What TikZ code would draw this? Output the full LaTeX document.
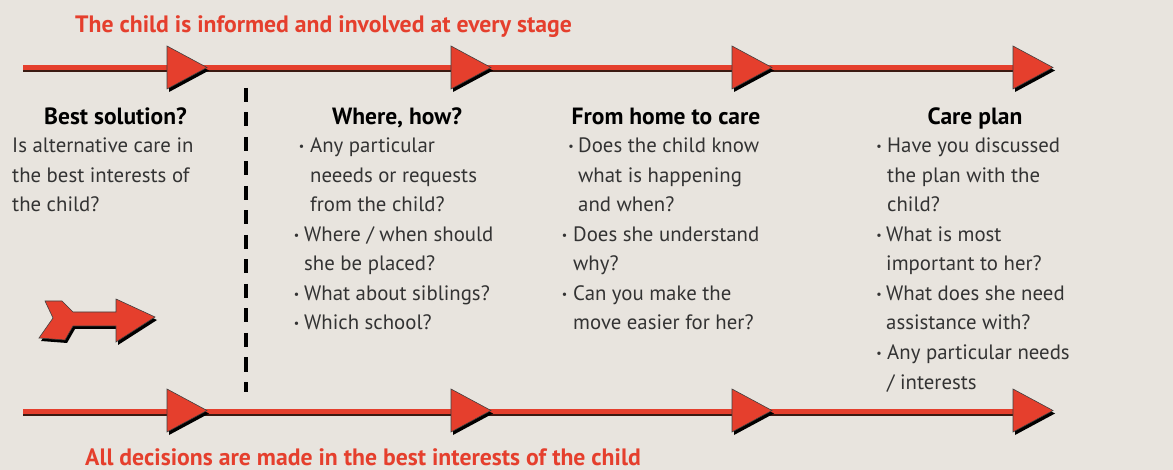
\documentclass[tikz,border=0pt]{standalone}
\usepackage{fontspec}
\setmainfont{PT Sans}
\definecolor{bg}{HTML}{E8E4DE}
\definecolor{redc}{HTML}{E53F2D}
\definecolor{shadowc}{HTML}{3B1A12}
\definecolor{txt}{HTML}{333333}
\begin{document}
\begin{tikzpicture}[x=1pt,y=-1pt,
  body/.style={anchor=base west, inner sep=0, text=txt, font=\fontsize{20.8}{20.8}\selectfont},
  head/.style={anchor=base, inner sep=0, text=black, font=\bfseries\fontsize{23.5}{23.5}\selectfont},
  bul/.style={anchor=center, inner sep=0, text=txt, font=\fontsize{12}{12}\selectfont},
  title/.style={anchor=base west, inner sep=0, text=redc, font=\bfseries\fontsize{23.7}{23.7}\selectfont},
  tri/.style={fill=redc, draw=black!75, line width=0.6},
  trishadow/.style={fill=black},
  redline/.style={draw=redc, line width=5},
  shadowline/.style={draw=shadowc, line width=5},
  dashline/.style={draw=black, line width=3.5, dash pattern=on 14 off 10.5},
]
\fill[bg] (0,0) rectangle (1173,470);
\useasboundingbox (0,0) rectangle (1173,470);

% timeline lines
\coordinate (tA) at (23,68);
\coordinate (tB) at (1013,68);
\coordinate (tAs) at (23,70);
\coordinate (tBs) at (1013,70);
\coordinate (bA) at (23,411);
\coordinate (bB) at (1013,411);
\coordinate (bAs) at (23,413);
\coordinate (bBs) at (1013,413);
\draw[shadowline] (tAs) -- (tBs);
\draw[redline] (tA) -- (tB);
\draw[shadowline] (bAs) -- (bBs);
\draw[redline] (bA) -- (bB);

% triangles
\foreach \L in {167,451,732,1013}{
  \foreach \cy in {67.5,410.5}{
    \fill[trishadow] (\L+2,\cy-21.5+3) -- (\L+40+2,\cy+3) -- (\L+2,\cy+21.5+3) -- cycle;
    \draw[tri] (\L,\cy-21.5) -- (\L+40,\cy) -- (\L,\cy+21.5) -- cycle;
  }
}

% dashed divider
\coordinate (dT) at (246,88);
\coordinate (dB) at (246,392);
\draw[dashline] (dT) -- (dB);

% left arrow
\fill[black] (45+2,301+3) -- (62+2,301+3) -- (73+2,312+3) -- (116+2,312+3) -- (116+2,299+3)
  -- (155+2,317+3) -- (116+2,342+3) -- (116+2,326+3) -- (73+2,326+3) -- (65+2,340+3)
  -- (39+2,338+3) -- (53+2,318+3) -- cycle;
\draw[fill=redc, draw=black!75, line width=0.6] (45,301) -- (62,301) -- (73,312) -- (116,312) -- (116,299)
  -- (155,317) -- (116,342) -- (116,326) -- (73,326) -- (65,340)
  -- (39,338) -- (53,318) -- cycle;

% titles
\node[title] (ttop) at (75,33) {The child is informed and involved at every stage};
\node[title] (tbot) at (85,465) {All decisions are made in the best interests of the child};

% headings
\node[head] (h1) at (115.5,125) {Best solution?};
\node[head] (h2) at (397,125) {Where, how?};
\node[head] (h3) at (666,125) {From home to care};
\node[head] (h4) at (975,125) {Care plan};

% column 1
\node[body] (c1a) at (12,153) {Is alternative care in};
\node[body] (c1b) at (12,182.5) {the best interests of};
\node[body] (c1c) at (12,212) {the child?};

% column 2
\node[bul] (b2a) at (301.5,148) {•};
\node[body] (c2a) at (310,153) {Any particular};
\node[body] (c2b) at (310,182.5) {neeeds or requests};
\node[body] (c2c) at (310,212) {from the child?};
\node[bul] (b2b) at (296.5,236.5) {•};
\node[body] (c2d) at (304,241.5) {Where / when should};
\node[body] (c2e) at (304,271) {she be placed?};
\node[bul] (b2c) at (296.5,295.5) {•};
\node[body] (c2f) at (304,300.5) {What about siblings?};
\node[bul] (b2d) at (296.5,325) {•};
\node[body] (c2g) at (304,330) {Which school?};

% column 3
\node[bul] (b3a) at (571,148) {•};
\node[body] (c3a) at (578,153) {Does the child know};
\node[body] (c3b) at (578,182.5) {what is happening};
\node[body] (c3c) at (578,212) {and when?};
\node[bul] (b3b) at (564.5,236.5) {•};
\node[body] (c3d) at (573,241.5) {Does she understand};
\node[body] (c3e) at (573,271) {why?};
\node[bul] (b3c) at (564.5,295.5) {•};
\node[body] (c3f) at (573,300.5) {Can you make the};
\node[body] (c3g) at (573,330) {move easier for her?};

% column 4
\node[bul] (b4a) at (879,148) {•};
\node[body] (c4a) at (887,153) {Have you discussed};
\node[body] (c4b) at (887,182.5) {the plan with the};
\node[body] (c4c) at (887,212) {child?};
\node[bul] (b4b) at (879,236.5) {•};
\node[body] (c4d) at (886,241.5) {What is most};
\node[body] (c4e) at (886,271) {important to her?};
\node[bul] (b4c) at (879,295.5) {•};
\node[body] (c4f) at (886,300.5) {What does she need};
\node[body] (c4g) at (886,330) {assistance with?};
\node[bul] (b4d) at (879,354.5) {•};
\node[body] (c4h) at (887,359.5) {Any particular needs};
\node[body] (c4i) at (887,389) {/ interests};
\end{tikzpicture}
\end{document}
